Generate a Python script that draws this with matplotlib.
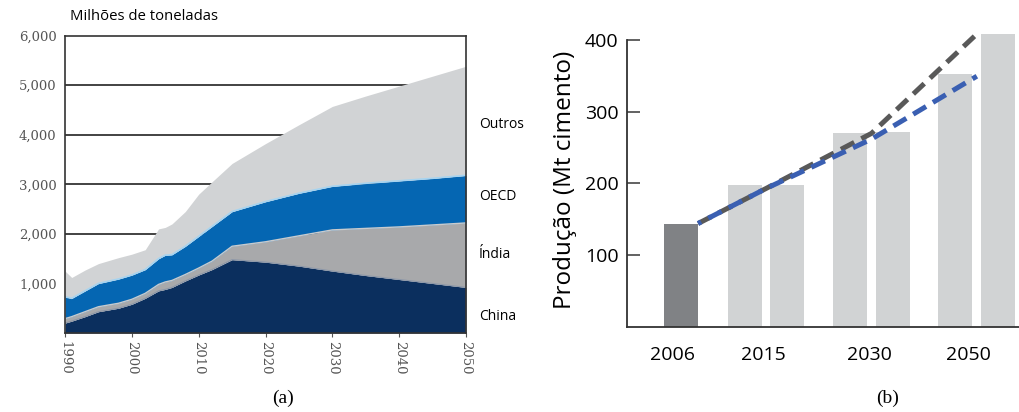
import numpy as np
import matplotlib
matplotlib.use("Agg")
import matplotlib.pyplot as plt

# painel (a): consumo de cimento por região, milhões de toneladas
anos = [1990, 1991, 1993, 1995, 1998, 2000, 2002, 2004, 2005, 2006, 2008,
        2010, 2012, 2015, 2020, 2025, 2030, 2035, 2040, 2045, 2050]
china = [200, 240, 330, 430, 500, 580, 700, 850, 880, 920, 1050,
         1170, 1280, 1480, 1430, 1350, 1250, 1160, 1080, 1000, 920]
india = [90, 90, 100, 100, 100, 100, 100, 130, 150, 140, 130,
         140, 170, 270, 410, 610, 830, 950, 1060, 1180, 1300]
oecd = [440, 370, 420, 470, 490, 490, 480, 520, 540, 520, 570,
        640, 700, 700, 810, 860, 880, 910, 930, 940, 960]
outros = [520, 420, 420, 400, 430, 420, 400, 600, 560, 620, 700,
          850, 900, 970, 1170, 1380, 1610, 1760, 1910, 2060, 2200]
regioes = ["China", "Índia", "OECD", "Outros"]
cores_a = ["#0b2f5e", "#a8a9ab", "#0566b2", "#d1d3d5"]
yticks_a = [1000, 2000, 3000, 4000, 5000, 6000]
xticks_a = [1990, 2000, 2010, 2020, 2030, 2040, 2050]

# painel (b): produção de cimento (Mt)
anos_b = ["2006", "2015", "2030", "2050"]
prod_baixa = [144, 198, 270, 353]
prod_alta = [198, 272, 409]
linha_cinza = [144, 193, 270, 409]
linha_azul = [144, 193, 262, 350]

fig = plt.figure(figsize=(10.19, 4.12), dpi=100)
sans = ["Open Sans", "DejaVu Sans"]

# ---------- (a) ----------
ax1 = fig.add_axes([0.0638, 0.1917, 0.3935, 0.7221])
x = np.array(anos)
camadas = [np.array(china), np.array(india), np.array(oecd), np.array(outros)]
base = np.zeros(len(anos))
for val, cor in zip(camadas, cores_a):
    ax1.fill_between(x, base, base + val, color=cor, lw=0, zorder=2)
    base = base + val
# bordas claras entre as camadas
topo_china = camadas[0]
topo_india = topo_china + camadas[1]
topo_oecd = topo_india + camadas[2]
ax1.plot(x, topo_china, color="#8c97a8", lw=0.8, zorder=3)
ax1.plot(x, topo_india, color="#c9cbcd", lw=1.0, zorder=3)
ax1.plot(x, topo_oecd, color="#a6d3f0", lw=1.2, zorder=3)

ax1.set_xlim(1990, 2050)
ax1.set_ylim(0, 6000)
for v in yticks_a[1:-1]:
    ax1.axhline(v, color="#222222", lw=1.2, zorder=1)
ax1.set_yticks(yticks_a)
ax1.set_yticklabels([f"{v:,}" for v in yticks_a], family="DejaVu Serif",
                    fontsize=9.5, color="#555555")
ax1.set_xticks(xticks_a)
ax1.set_xticklabels([str(a) for a in xticks_a], rotation=-90,
                    family="DejaVu Serif", fontsize=9.5, color="#555555")
ax1.tick_params(axis="y", length=0, pad=6)
ax1.tick_params(axis="x", length=3, width=0.8, color="#555555", pad=3)
for s in ax1.spines.values():
    s.set_color("#333333")
    s.set_linewidth(1.2)
    s.set_zorder(4)

fig.text(70 / 1019, 1 - 17 / 412, "Milhões de toneladas", family=sans,
         fontsize=10.7, va="center", ha="left")
for nome, yp in zip(["Outros", "OECD", "Índia", "China"], [124, 197, 255, 317]):
    fig.text(479 / 1019, 1 - yp / 412, nome, family=sans, fontsize=10,
             va="center", ha="left")

# ---------- (b) ----------
ax2 = fig.add_axes([0.6153, 0.2075, 0.3847, 0.7117])
centros = np.array([0.0, 2.5, 5.6, 8.7])
desloc = 0.63
ax2.bar(centros[0], prod_baixa[0], width=1.0, color="#808285", zorder=2)
ax2.bar(centros[1:] - desloc, prod_baixa[1:], width=1.0, color="#d1d3d4",
        zorder=2, clip_on=False)
ax2.bar(centros[1:] + desloc, prod_alta, width=1.0, color="#d1d3d4",
        zorder=2, clip_on=False)

xl = np.concatenate([[centros[0] + 0.5], centros[1:]])
ax2.plot(xl, linha_cinza, color="#595959", lw=3.6,
         linestyle=(0, (3, 1.6)), dash_capstyle="butt", zorder=3, clip_on=False)
ax2.plot(xl, linha_azul, color="#3a5fb2", lw=3.6,
         linestyle=(2.3, (3, 1.6)), dash_capstyle="butt", zorder=4, clip_on=False)

ax2.set_xlim(-1.59, 9.94)
ax2.set_ylim(0, 410)
ax2.spines["top"].set_visible(False)
ax2.spines["right"].set_visible(False)
ax2.spines["left"].set_bounds(0, 400)
for s in ("left", "bottom"):
    ax2.spines[s].set_linewidth(1.3)
    ax2.spines[s].set_color("#333333")
ax2.set_yticks([100, 200, 300, 400])
ax2.set_yticklabels(["100", "200", "300", "400"], family=sans, fontsize=14)
ax2.tick_params(axis="y", direction="in", length=9, width=1.3, pad=6,
                color="#555555")
ax2.set_xticks(centros - np.array([0.25, 0.08, 0.05, 0.25]))
ax2.set_xticklabels(anos_b, family=sans, fontsize=14)
ax2.tick_params(axis="x", length=0, pad=14)
ax2.set_ylabel("Produção (Mt cimento)", family=sans, fontsize=17.5, labelpad=6)

fig.text(283 / 1019, 1 - 398 / 412, "(a)", family="Liberation Serif",
         fontsize=14, ha="center", va="center")
fig.text(888 / 1019, 1 - 398 / 412, "(b)", family="Liberation Serif",
         fontsize=14, ha="center", va="center")

fig.savefig("out.png", dpi=100)
